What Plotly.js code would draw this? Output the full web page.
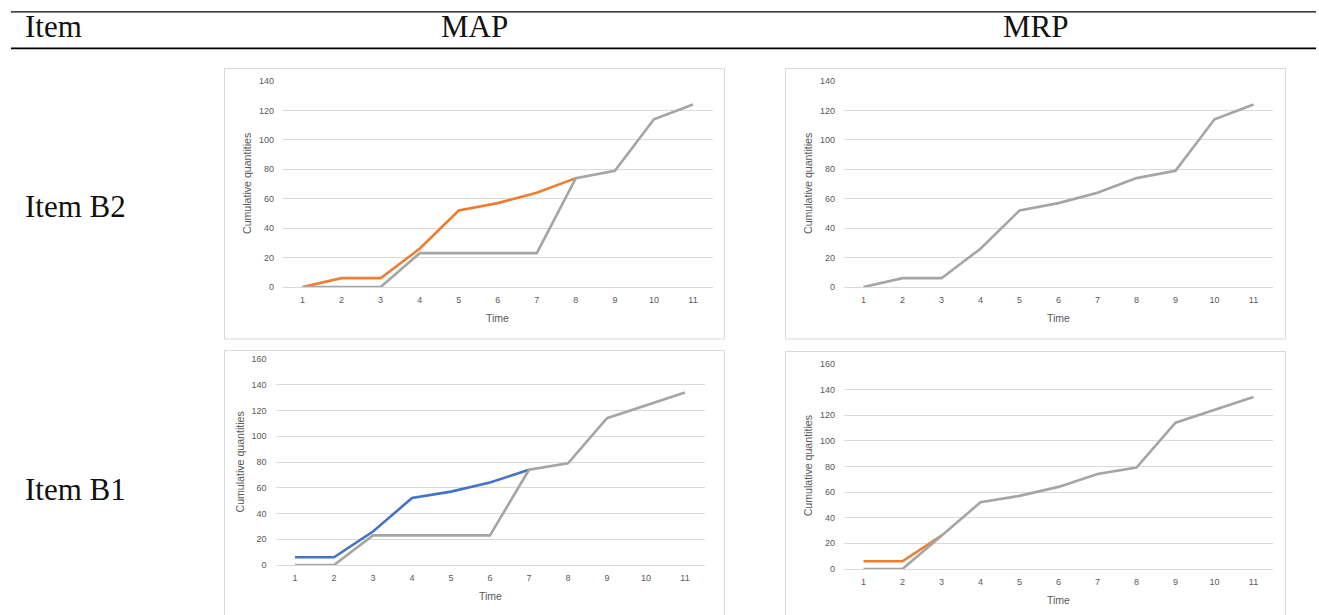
<!DOCTYPE html>
<html>
<head>
<meta charset="utf-8">
<script src="https://cdn.plot.ly/plotly-3.0.1.min.js"></script>
<style>
html,body{margin:0;padding:0;background:#fff;}
#chart{width:1319px;height:615px;}
</style>
</head>
<body>
<div id="chart"></div>
<script>
// ---- data ----
const timeLabels = [1, 2, 3, 4, 5, 6, 7, 8, 9, 10, 11];
const b2MapPlanned = [0, 6, 6, 26, 52, 57, 64, 74];
const b2MapActual = [0, 0, 0, 23, 23, 23, 23, 74, 79, 114, 124];
const b2MrpActual = [0, 6, 6, 26, 52, 57, 64, 74, 79, 114, 124];
const b1MapPlanned = [6, 6, 26, 52, 57, 64, 74];
const b1MapActual = [0, 0, 23, 23, 23, 23, 74, 79, 114, 124, 134];
const b1MrpPlanned = [6, 6, 26];
const b1MrpActual = [0, 0, 26, 52, 57, 64, 74, 79, 114, 124, 134];
const columnHeaders = ["Item", "MAP", "MRP"];
const rowLabels = ["Item B2", "Item B1"];
const xTitle = "Time";
const yTitle = "Cumulative quantities";

// ---- layout helpers ----
const W = 1319, H = 615;
const px = v => v / W;
const py = v => 1 - v / H;

const ORANGE = "#ED7D31", GRAY = "#A5A5A5", BLUE = "#4472C4";
const TICKC = "#595959", GRIDC = "#D9D9D9";
const LW = 2.6;

function line(x, y, color, ax) {
  return {x: x, y: y, type: "scatter", mode: "lines",
    line: {color: color, width: LW, shape: "linear"},
    xaxis: "x" + ax, yaxis: "y" + ax, hoverinfo: "skip", showlegend: false};
}
const sub = (arr) => timeLabels.slice(0, arr.length);

const data = [
  line(sub(b2MapPlanned), b2MapPlanned, ORANGE, ""),
  line(timeLabels, b2MapActual, GRAY, ""),
  line(timeLabels, b2MrpActual, GRAY, "2"),
  line(sub(b1MapPlanned), b1MapPlanned, BLUE, "3"),
  line(timeLabels, b1MapActual, GRAY, "3"),
  line(sub(b1MrpPlanned), b1MrpPlanned, ORANGE, "4"),
  line(timeLabels, b1MrpActual, GRAY, "4")
];

// plot-area pixel boxes
const panels = [
  {x0: 283, x1: 712.5, yt: 81, yb: 287, ymax: 140, box: [224, 68, 725, 339], ytx: 247},
  {x0: 844, x1: 1273, yt: 81, yb: 287, ymax: 140, box: [785, 68, 1286, 339], ytx: 808},
  {x0: 275.5, x1: 704.5, yt: 359, yb: 565, ymax: 160, box: [224, 350, 725, 640], ytx: 239.5},
  {x0: 844, x1: 1273, yt: 363.7, yb: 569, ymax: 160, box: [785, 351, 1286, 640], ytx: 808}
];

const layout = {
  width: W, height: H,
  margin: {l: 0, r: 0, t: 0, b: 0},
  paper_bgcolor: "#fff", plot_bgcolor: "rgba(0,0,0,0)",
  showlegend: false,
  shapes: [], annotations: []
};

const SANS = "Liberation Sans, Arial, sans-serif";
panels.forEach((p, i) => {
  const s = i === 0 ? "" : String(i + 1);
  layout["xaxis" + s] = {
    domain: [px(p.x0), px(p.x1)], anchor: "y" + s,
    range: [0.5, 11.5], tickvals: timeLabels, ticktext: timeLabels.map(String),
    showgrid: false, zeroline: false, showline: false, ticks: "",
    ticklabelstandoff: 6,
    tickfont: {family: SANS, size: 9, color: TICKC},
    fixedrange: true
  };
  layout["yaxis" + s] = {
    domain: [py(p.yb), py(p.yt)], anchor: "x" + s,
    range: [0, p.ymax], dtick: 20,
    showgrid: true, gridcolor: GRIDC, gridwidth: 1,
    zeroline: true, zerolinecolor: GRIDC, zerolinewidth: 1,
    showline: false, ticks: "", ticklabelstandoff: 8,
    tickfont: {family: SANS, size: 9, color: TICKC},
    fixedrange: true
  };
  layout.shapes.push({type: "rect", xref: "paper", yref: "paper",
    x0: px(p.box[0] + 0.5), x1: px(p.box[2] - 0.5), y0: py(p.box[1] + 0.5), y1: py(p.box[3]),
    line: {color: GRIDC, width: 1}, fillcolor: "rgba(0,0,0,0)", layer: "below"});
  layout.annotations.push({xref: "paper", yref: "paper",
    x: px((p.x0 + p.x1) / 2), y: py(p.yb + 31), xanchor: "center", yanchor: "middle",
    text: xTitle, showarrow: false,
    font: {family: SANS, size: 10.5, color: TICKC}});
  layout.annotations.push({xref: "paper", yref: "paper",
    x: px(p.ytx), y: py((p.yt + p.yb) / 2), xanchor: "center", yanchor: "middle",
    text: yTitle, textangle: -90, showarrow: false,
    font: {family: SANS, size: 10.6, color: TICKC}});
});

// table rules
layout.shapes.push({type: "line", xref: "paper", yref: "paper",
  x0: px(11), x1: px(1316), y0: py(11.8), y1: py(11.8), line: {color: "#000", width: 1.3}});
layout.shapes.push({type: "line", xref: "paper", yref: "paper",
  x0: px(11), x1: px(1316), y0: py(48.3), y1: py(48.3), line: {color: "#000", width: 1.8}});

const SERIF = "Liberation Serif, Times New Roman, serif";
function tableText(text, x, y, anchor) {
  layout.annotations.push({xref: "paper", yref: "paper", x: px(x), y: py(y),
    xanchor: anchor, yanchor: "middle", text: text, showarrow: false,
    font: {family: SERIF, size: 31, color: "#111"}});
}
tableText(columnHeaders[0], 23, 26.5, "left");
tableText(columnHeaders[1], 474, 26.5, "center");
tableText(columnHeaders[2], 1035, 26.5, "center");
tableText(rowLabels[0], 23, 206.5, "left");
tableText(rowLabels[1], 23, 489.5, "left");

Plotly.newPlot("chart", data, layout, {staticPlot: true, displayModeBar: false});
</script>
</body>
</html>
